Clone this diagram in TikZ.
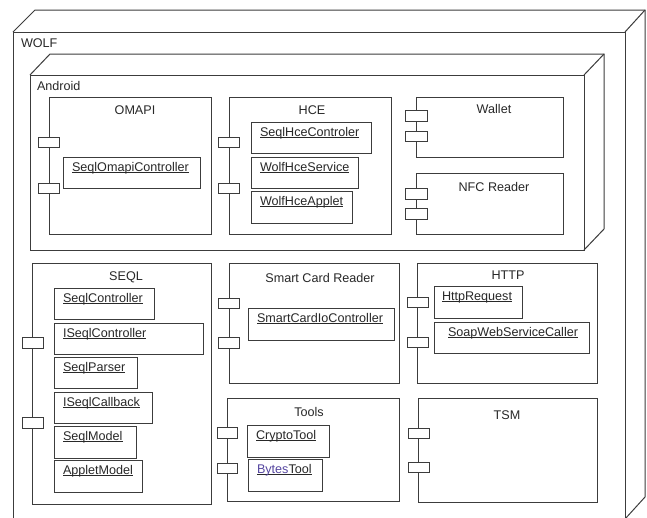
\documentclass[tikz,border=0pt]{standalone}
\usepackage{fontspec}
\setmainfont{Liberation Sans}
\usetikzlibrary{shadows}
\definecolor{lc}{RGB}{60,60,60}
\definecolor{tc}{RGB}{40,40,40}
\definecolor{bt}{RGB}{85,70,160}
\tikzset{
  basebox/.style={inner sep=0pt, outer sep=0pt},
  frame3d/.style={basebox, draw=lc, line width=1pt, fill=white},
  edge3d/.style={draw=lc, line width=1pt, line join=miter},
  compbox/.style={basebox, draw=lc, line width=1pt, fill=white},
  portbox/.style={basebox, draw=lc, line width=1pt, fill=white},
  itembox/.style={basebox, draw=lc, line width=1pt, fill=white,
     drop shadow={shadow xshift=1.3pt, shadow yshift=-1.3pt, opacity=0.4}},
  txt/.style={basebox, text=tc, font=\fontsize{12.6}{15}\selectfont},
  ttl/.style={txt, anchor=base},
  lbl/.style={txt, anchor=base west},
}
\newcommand\ulx[1]{\leavevmode\setbox0\hbox{#1}\rlap{\rule[-1.9pt]{\wd0}{0.9pt}}\box0}
\newcommand\mkbox[6][]{\node[#1, minimum width={(#5-#3)*1pt}, minimum height={(#6-#4)*1pt}] (#2) at ({(#3+#5)/2},{(#4+#6)/2}) {};}
\newcommand\mkitem[7]{\mkbox[itembox]{#1}{#2}{#3}{#4}{#5}\node[lbl] (#1t) at ({#2+#7},{#3+14}) {\ulx{#6}};}
\begin{document}
\begin{tikzpicture}[x=1pt,y=-1pt]
\useasboundingbox (0,0) rectangle (647,517);
% WOLF
\mkbox[frame3d]{wolf}{13}{32}{625}{519}
\draw[edge3d] (wolf.north west) -- ++(22pt,22pt) -| ([shift={(20pt,22pt)}]wolf.south east) -- (wolf.south east);
\draw[edge3d] (wolf.north east) -- ++(20pt,22pt);
\node[lbl] (wolft) at (21,47) {WOLF};
% Android
\mkbox[frame3d]{android}{30}{75}{584}{250}
\draw[edge3d] (android.north west) -- ++(20pt,21pt) -| ([shift={(20pt,21pt)}]android.south east) -- (android.south east);
\draw[edge3d] (android.north east) -- ++(20pt,21pt);
\node[lbl] (androidt) at (37,90) {Android};
% components
\mkbox[compbox]{omapi}{49}{97}{211}{234}
\mkbox[compbox]{hce}{229}{97}{391}{234}
\mkbox[compbox]{wallet}{416}{97}{563}{157}
\mkbox[compbox]{nfc}{416}{173}{563}{234}
\mkbox[compbox]{seql}{32}{263}{211}{504}
\mkbox[compbox]{scr}{229}{263}{399}{383}
\mkbox[compbox]{tools}{227}{398}{399}{501}
\mkbox[compbox]{http}{417}{263}{597}{383}
\mkbox[compbox]{tsm}{418}{398}{597}{502}
% titles
\node[ttl] (omapit) at (135,114) {OMAPI};
\node[ttl] (hcet) at (312,114) {HCE};
\node[ttl] (wallett) at (494,113) {Wallet};
\node[ttl] (nfct) at (494,191) {NFC Reader};
\node[ttl] (seqlt) at (126,280) {SEQL};
\node[ttl] (scrt) at (320,282) {Smart Card Reader};
\node[ttl] (toolst) at (309,416) {Tools};
\node[ttl] (httpt) at (508,279) {HTTP};
\node[ttl] (tsmt) at (507,419) {TSM};
% ports
\mkbox[portbox]{p1}{38}{137}{59}{147}
\mkbox[portbox]{p2}{38}{183}{59}{193}
\mkbox[portbox]{p3}{218}{137}{239}{147}
\mkbox[portbox]{p4}{218}{183}{239}{193}
\mkbox[portbox]{p5}{405}{110}{427}{121}
\mkbox[portbox]{p6}{405}{131}{427}{141}
\mkbox[portbox]{p7}{405}{188}{427}{199}
\mkbox[portbox]{p8}{405}{208}{427}{219}
\mkbox[portbox]{p9}{22}{337}{43}{348}
\mkbox[portbox]{p10}{22}{417}{43}{428}
\mkbox[portbox]{p11}{218}{298}{239}{308}
\mkbox[portbox]{p12}{218}{337}{239}{348}
\mkbox[portbox]{p13}{217}{427}{237}{438}
\mkbox[portbox]{p14}{217}{463}{237}{473}
\mkbox[portbox]{p15}{407}{297}{428}{307}
\mkbox[portbox]{p16}{407}{337}{428}{347}
\mkbox[portbox]{p17}{408}{428}{429}{438}
\mkbox[portbox]{p18}{408}{462}{429}{472}
% items
\mkitem{i1}{63}{157}{200}{188}{SeqlOmapiController}{9}
\mkitem{i2}{251}{122}{371}{153}{SeqlHceControler}{9}
\mkitem{i3}{251}{157}{358}{188}{WolfHceService}{9}
\mkitem{i4}{251}{191}{352}{223}{WolfHceApplet}{9}
\mkitem{i5}{54}{288}{154}{319}{SeqlController}{9}
\mkitem{i6}{54}{323}{203}{354}{ISeqlController}{9}
\mkitem{i7}{54}{357}{137}{388}{SeqlParser}{9}
\mkitem{i8}{54}{392}{152}{423}{ISeqlCallback}{9}
\mkitem{i9}{54}{426}{136}{458}{SeqlModel}{9}
\mkitem{i10}{54}{460}{142}{492}{AppletModel}{9}
\mkitem{i11}{248}{308}{394}{340}{SmartCardIoController}{9}
\mkitem{i12}{247}{425}{329}{457}{CryptoTool}{9}
\mkitem{i13}{248}{459}{322}{491}{\textcolor{bt}{Bytes}Tool}{9}
\mkitem{i14}{434}{286}{522}{318}{HttpRequest}{8}
\mkitem{i15}{434}{322}{589}{353}{SoapWebServiceCaller}{14}
\end{tikzpicture}
\end{document}
